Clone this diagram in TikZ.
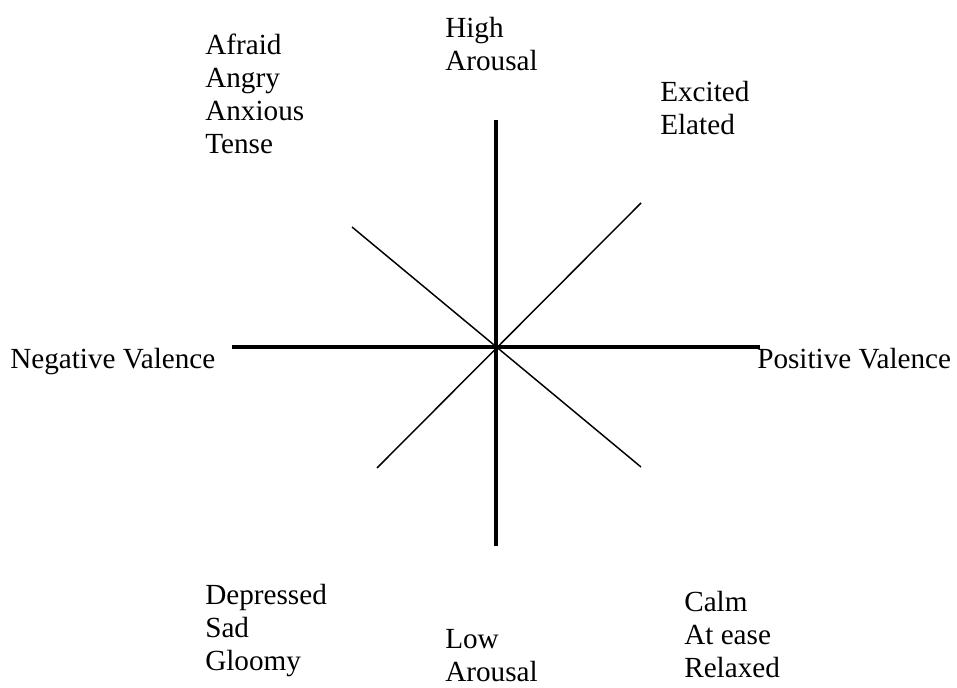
\documentclass[tikz,border=0pt]{standalone}
\usepackage{fontspec}
\setmainfont{Liberation Serif}
\begin{document}
\begin{tikzpicture}[x=0.75pt,y=-0.75pt,
  lbl/.style={anchor=base west,inner sep=0pt,align=left,
    font=\fontsize{21.9pt}{24.75pt}\selectfont},
  axis/.style={line width=3.4pt},
  diag/.style={line width=1.1pt}]
\useasboundingbox (0,0) rectangle (957,688);
\coordinate (c) at (496,347);
\coordinate (top) at (496,120);
\coordinate (bot) at (496,546);
\coordinate (left) at (232,347);
\coordinate (right) at (760,347);
\coordinate (tl) at (352,227);
\coordinate (br) at (641,467);
\coordinate (tr) at (641,203);
\coordinate (bl) at (377,468);
\draw[axis] (top) -- (bot);
\draw[axis] (left) -- (right);
\draw[diag] (tl) -- (br);
\draw[diag] (tr) -- (bl);
% base anchor of a multi-line node lies on its last line
\node[lbl] (high) at (445,71) {High\\Arousal};
\node[lbl] (afraid) at (205,154) {Afraid\\Angry\\Anxious\\Tense};
\node[lbl] (excited) at (660,135) {Excited\\Elated};
\node[lbl] (neg) at (10,368) {Negative Valence};
\node[lbl] (pos) at (757,368) {Positive Valence};
\node[lbl] (dep) at (205,670) {Depressed\\Sad\\Gloomy};
\node[lbl] (low) at (445,681) {Low\\Arousal};
\node[lbl] (calm) at (684,677) {Calm\\At ease\\Relaxed};
\end{tikzpicture}
\end{document}
